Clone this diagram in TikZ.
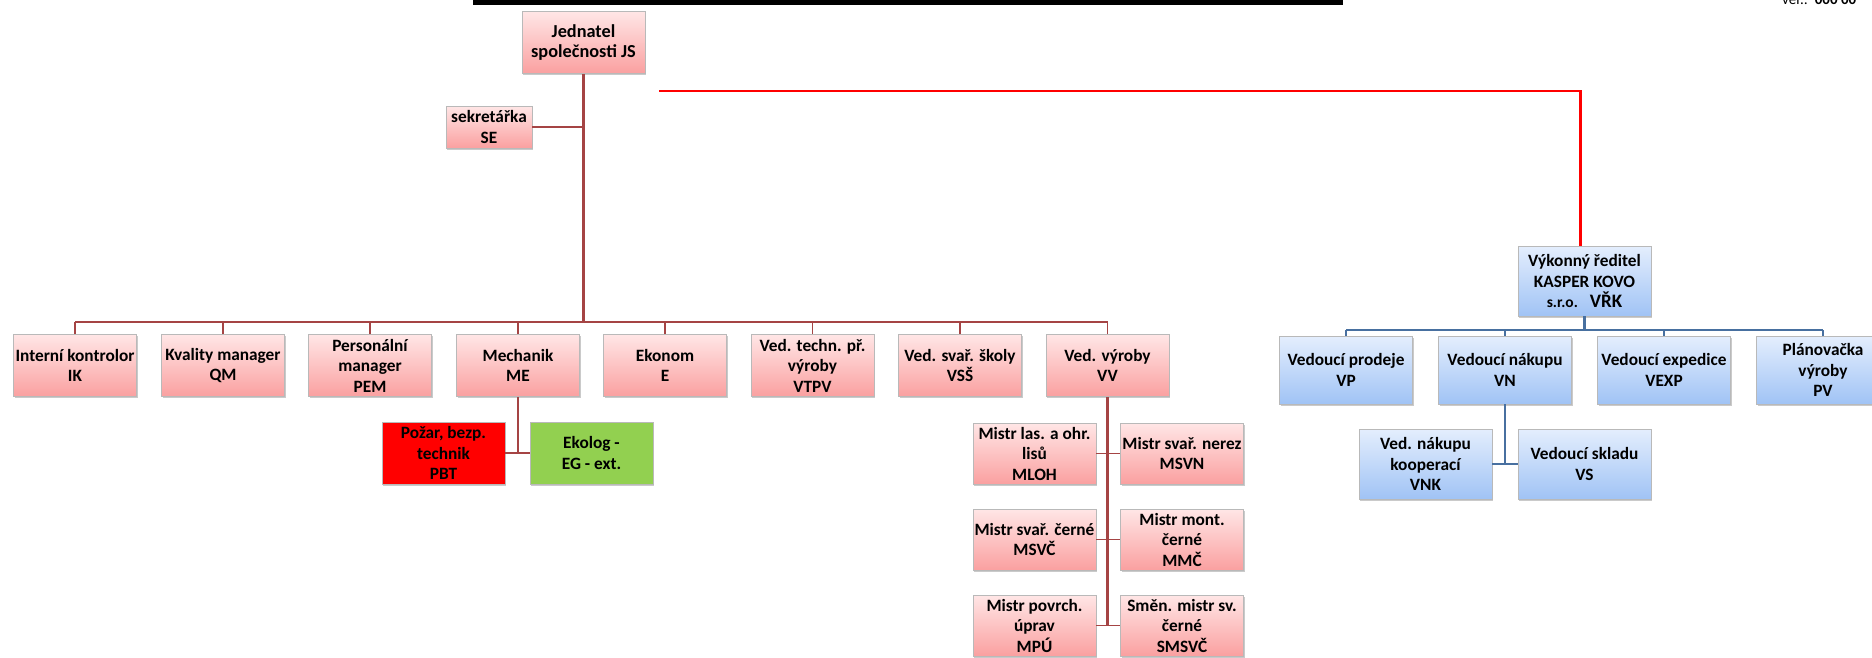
\documentclass[tikz,border=0pt]{standalone}
\usepackage{fontspec}
\setmainfont{Carlito}
\usetikzlibrary{shadows}

\definecolor{pinktop}{RGB}{255,230,230}
\definecolor{pinkbot}{RGB}{250,160,160}
\definecolor{bluetop}{RGB}{228,238,253}
\definecolor{bluebot}{RGB}{160,195,245}
\definecolor{linkred}{RGB}{165,68,68}
\definecolor{linkblue}{RGB}{72,112,160}
\definecolor{fireRed}{RGB}{255,0,0}
\definecolor{ecoGreen}{RGB}{146,208,80}

\tikzset{
  box/.style={draw=gray!55, line width=0.7pt, align=center, inner xsep=0pt, inner ysep=1pt,
    text=black, font=\bfseries\fontsize{17.3}{20.5}\selectfont,
    minimum width=123pt, minimum height=62pt,
    drop shadow={shadow xshift=1.2pt, shadow yshift=-1.8pt, opacity=0.35, fill=black!60}},
  pinkbox/.style={box, top color=pinktop, bottom color=pinkbot},
  bluebox/.style={box, top color=bluetop, bottom color=bluebot,
    minimum width=133pt, minimum height=68pt},
  redtrunk/.style={draw=linkred, line width=2.7pt},
  redlink/.style={draw=linkred, line width=1.8pt},
  bluetrunk/.style={draw=linkblue, line width=2.4pt},
  bluelink/.style={draw=linkblue, line width=1.8pt},
  execline/.style={draw=fireRed, line width=2.7pt},
}

\begin{document}
\begin{tikzpicture}[x=1pt,y=-1pt]
\useasboundingbox (0,0) rectangle (1872,657);
\clip (0,0) rectangle (1872,657);

% header bar and version mark
\fill[black] (473,0) rectangle (1343,4.5);
\node[anchor=base west, inner sep=0pt, font=\fontsize{15}{18}\selectfont] (ver) at (1782,4)
  {ver.:\hspace{7pt}\textbf{000 00}};

% top management
\node[pinkbox, font=\bfseries\fontsize{18.3}{20.5}\selectfont] (js) at (583.5,42.5) {Jednatel\\společnosti JS};
\node[pinkbox, minimum width=86pt, minimum height=42pt] (se) at (489,127) {sekretářka\\SE};

% departments
\node[pinkbox] (ik)   at (75,365.5)   {Interní kontrolor\\IK};
\node[pinkbox] (qm)   at (223,365.5)  {Kvality manager\\QM};
\node[pinkbox] (pem)  at (370,365.5)  {Personální\\manager\\PEM};
\node[pinkbox] (me)   at (518,365.5)  {Mechanik\\ME};
\node[pinkbox] (ek)   at (665,365.5)  {Ekonom\\E};
\node[pinkbox] (vtpv) at (812.5,365.5){Ved. techn. př.\\výroby\\VTPV};
\node[pinkbox] (vss)  at (960,365.5)  {Ved. svař. školy\\VSŠ};
\node[pinkbox] (vv)   at (1107.5,365.5){Ved. výroby\\VV};

% under the mechanic
\node[box, fill=fireRed] (pbt) at (443.5,453) {Požar, bezp.\\technik\\PBT};
\node[box, fill=ecoGreen] (eg) at (591.5,453) {Ekolog -\\EG - ext.};

% foremen under production
\node[pinkbox, minimum height=61pt] (mloh)  at (1034.5,453.5) {Mistr las. a ohr.\\lisů\\MLOH};
\node[pinkbox, minimum height=61pt] (msvn)  at (1182,453.5)   {Mistr svař. nerez\\MSVN};
\node[pinkbox, minimum height=61pt] (msvc)  at (1034.5,539.5) {Mistr svař. černé\\MSVČ};
\node[pinkbox, minimum height=61pt] (mmc)   at (1182,539.5)   {Mistr mont.\\černé\\MMČ};
\node[pinkbox, minimum height=61pt] (mpu)   at (1034.5,625.5) {Mistr povrch.\\úprav\\MPÚ};
\node[pinkbox, minimum height=61pt] (smsvc) at (1182,625.5)   {Směn. mistr sv.\\černé\\SMSVČ};

% executive branch
\node[bluebox, minimum height=70pt] (vrk) at (1584.5,281)
  {Výkonný ředitel\\KASPER KOVO\\{\fontsize{15.5}{20.5}\selectfont s.r.o.}\hspace{12pt}{\fontsize{19}{20.5}\selectfont VŘK}};
\node[bluebox] (vp)   at (1346,370) {Vedoucí prodeje\\VP};
\node[bluebox] (vn)   at (1505,370) {Vedoucí nákupu\\VN};
\node[bluebox] (vexp) at (1664,370) {Vedoucí expedice\\VEXP};
\node[bluebox] (pv)   at (1823,370) {Plánovačka\\výroby\\PV};
\node[bluebox, minimum height=70pt] (vnk) at (1425.5,464) {Ved. nákupu\\kooperací\\VNK};
\node[bluebox, minimum height=70pt] (vs)  at (1584.5,464) {Vedoucí skladu\\VS};

% junction points
\coordinate (bus)   at (583.5,322);
\coordinate (bbus)  at (1584.5,330);
\coordinate (rstart) at (659,91);

% connectors: top management
\draw[redtrunk] (js.south) -- (bus);
\draw[redlink] (se.east) -- (se.east -| js.south);
\draw[redtrunk] (ik.north |- bus) -- (vv.north |- bus);
\foreach \n in {ik,qm,pem,me,ek,vtpv,vss,vv}
  \draw[redlink] (\n.north) -- (\n.north |- bus);

% mechanic branch
\draw[redlink] (me.south) -- (me.south |- pbt.east);
\draw[redlink] (pbt.east) -- (eg.west);

% production branch
\draw[redtrunk] (vv.south) -- (vv.south |- smsvc.west);
\draw[redlink] (mloh.east) -- (msvn.west);
\draw[redlink] (msvc.east) -- (mmc.west);
\draw[redlink] (mpu.east) -- (smsvc.west);

% link to the executive director
\draw[execline] (rstart) -| ([xshift=-4pt]vrk.north);

% executive branch connectors
\draw[bluetrunk] (vrk.south) -- (bbus);
\draw[bluetrunk] (vp.north |- bbus) -- (pv.north |- bbus);
\foreach \n in {vp,vn,vexp,pv}
  \draw[bluelink] (\n.north) -- (\n.north |- bbus);
\draw[bluetrunk] (vn.south) -- (vn.south |- vnk.east);
\draw[bluelink] (vnk.east) -- (vs.west);
\end{tikzpicture}
\end{document}
